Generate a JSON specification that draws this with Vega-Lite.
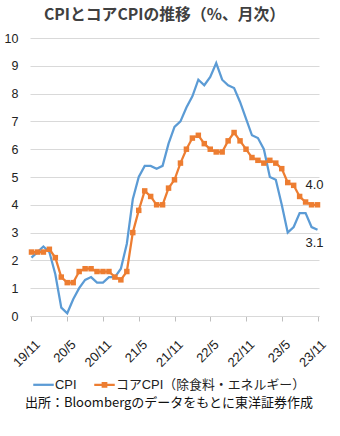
{
  "$schema": "https://vega.github.io/schema/vega-lite/v6.json",
  "width": 289,
  "height": 278,
  "autosize": {"type": "none"},
  "padding": {"left": 30, "top": 38, "right": 21, "bottom": 120},
  "background": "white",
  "title": {"text": "CPIとコアCPIの推移（%、月次）", "font": "Noto Sans CJK JP", "fontSize": 15.8, "fontWeight": "bold", "color": "#404040", "anchor": "middle", "offset": 8, "dx": -10},
  "config": {"view": {"stroke": null}, "font": "Liberation Sans, Noto Sans CJK JP"},
  "data": {"values": [
    {"m": "19/11", "cpi": 2.1, "core": 2.3},
    {"m": "19/12", "cpi": 2.3, "core": 2.3},
    {"m": "20/1", "cpi": 2.5, "core": 2.3},
    {"m": "20/2", "cpi": 2.3, "core": 2.4},
    {"m": "20/3", "cpi": 1.5, "core": 2.1},
    {"m": "20/4", "cpi": 0.3, "core": 1.4},
    {"m": "20/5", "cpi": 0.1, "core": 1.2},
    {"m": "20/6", "cpi": 0.6, "core": 1.2},
    {"m": "20/7", "cpi": 1.0, "core": 1.6},
    {"m": "20/8", "cpi": 1.3, "core": 1.7},
    {"m": "20/9", "cpi": 1.4, "core": 1.7},
    {"m": "20/10", "cpi": 1.2, "core": 1.6},
    {"m": "20/11", "cpi": 1.2, "core": 1.6},
    {"m": "20/12", "cpi": 1.4, "core": 1.6},
    {"m": "21/1", "cpi": 1.4, "core": 1.4},
    {"m": "21/2", "cpi": 1.7, "core": 1.3},
    {"m": "21/3", "cpi": 2.6, "core": 1.6},
    {"m": "21/4", "cpi": 4.2, "core": 3.0},
    {"m": "21/5", "cpi": 5.0, "core": 3.8},
    {"m": "21/6", "cpi": 5.4, "core": 4.5},
    {"m": "21/7", "cpi": 5.4, "core": 4.3},
    {"m": "21/8", "cpi": 5.3, "core": 4.0},
    {"m": "21/9", "cpi": 5.4, "core": 4.0},
    {"m": "21/10", "cpi": 6.2, "core": 4.6},
    {"m": "21/11", "cpi": 6.8, "core": 4.9},
    {"m": "21/12", "cpi": 7.0, "core": 5.5},
    {"m": "22/1", "cpi": 7.5, "core": 6.0},
    {"m": "22/2", "cpi": 7.9, "core": 6.4},
    {"m": "22/3", "cpi": 8.5, "core": 6.5},
    {"m": "22/4", "cpi": 8.3, "core": 6.2},
    {"m": "22/5", "cpi": 8.6, "core": 6.0},
    {"m": "22/6", "cpi": 9.1, "core": 5.9},
    {"m": "22/7", "cpi": 8.5, "core": 5.9},
    {"m": "22/8", "cpi": 8.3, "core": 6.3},
    {"m": "22/9", "cpi": 8.2, "core": 6.6},
    {"m": "22/10", "cpi": 7.7, "core": 6.3},
    {"m": "22/11", "cpi": 7.1, "core": 6.0},
    {"m": "22/12", "cpi": 6.5, "core": 5.7},
    {"m": "23/1", "cpi": 6.4, "core": 5.6},
    {"m": "23/2", "cpi": 6.0, "core": 5.5},
    {"m": "23/3", "cpi": 5.0, "core": 5.6},
    {"m": "23/4", "cpi": 4.9, "core": 5.5},
    {"m": "23/5", "cpi": 4.0, "core": 5.3},
    {"m": "23/6", "cpi": 3.0, "core": 4.8},
    {"m": "23/7", "cpi": 3.2, "core": 4.7},
    {"m": "23/8", "cpi": 3.7, "core": 4.3},
    {"m": "23/9", "cpi": 3.7, "core": 4.1},
    {"m": "23/10", "cpi": 3.2, "core": 4.0},
    {"m": "23/11", "cpi": 3.1, "core": 4.0}
  ]},
  "transform": [{"fold": ["cpi", "core"], "as": ["s", "v"]}],
  "encoding": {
    "x": {
      "field": "m", "type": "ordinal", "sort": null,
      "scale": {"type": "point", "padding": 0.25},
      "axis": {
        "values": ["19/11", "20/5", "20/11", "21/5", "21/11", "22/5", "22/11", "23/5", "23/11"],
        "title": null, "labelAngle": -45, "labelAlign": "right", "labelBaseline": "middle",
        "labelFont": "Liberation Sans", "labelFontSize": 13, "labelColor": "#222",
        "labelPadding": 21, "labelOffset": 6, "tickSize": 5, "tickColor": "#bfbfbf",
        "domainColor": "#d9d9d9", "grid": false
      }
    },
    "y": {
      "field": "v", "type": "quantitative",
      "scale": {"domain": [0, 10], "nice": false},
      "axis": {
        "values": [0, 1, 2, 3, 4, 5, 6, 7, 8, 9, 10], "title": null, "domain": false, "ticks": false,
        "gridColor": "#d9d9d9", "gridWidth": 1, "labelPadding": 12,
        "labelFont": "Liberation Sans", "labelFontSize": 12.5, "labelColor": "#222"
      }
    }
  },
  "layer": [
    {
      "mark": {"type": "line", "strokeWidth": 2.25},
      "encoding": {
        "color": {
          "field": "s", "type": "nominal",
          "scale": {"domain": ["cpi", "core"], "range": ["#5B9BD5", "#ED7D31"]},
          "legend": {
            "orient": "none", "legendX": -5, "legendY": 335, "direction": "horizontal",
            "title": "出所：Bloombergのデータをもとに東洋証券作成",
            "titleOrient": "bottom", "titleAnchor": "middle", "titleFont": "Noto Sans CJK JP",
            "titleFontSize": 13, "titleFontWeight": "normal", "titleColor": "#111",
            "titleLimit": 400, "titlePadding": 5,
            "labelExpr": "datum.value == 'cpi' ? 'CPI' : 'コアCPI（除食料・エネルギー）'",
            "labelFont": "Liberation Sans, Noto Sans CJK JP", "labelFontSize": 12.9, "labelColor": "#222",
            "labelLimit": 300, "labelOffset": 0,
            "symbolSize": 420, "symbolStrokeWidth": 2.25, "columnPadding": 12,
            "encode": {
              "symbols": {
                "update": {
                  "shape": {"signal": "datum.value == 'cpi' ? 'M-1,0H1' : 'M-1,0H1M-0.17,-0.17H0.17V0.17H-0.17Z'"},
                  "fill": {"signal": "datum.value == 'cpi' ? 'transparent' : '#ED7D31'"},
                  "stroke": {"signal": "datum.value == 'cpi' ? '#5B9BD5' : '#ED7D31'"},
                  "opacity": {"value": 1},
                  "fillOpacity": {"value": 1}
                }
              }
            }
          }
        }
      }
    },
    {
      "transform": [{"filter": "datum.s == 'core'"}],
      "mark": {"type": "square", "size": 30, "color": "#ED7D31", "opacity": 1, "filled": true}
    },
    {
      "transform": [{"filter": "datum.s == 'core' && datum.m == '23/11'"}],
      "mark": {"type": "text", "dx": -3, "dy": -20, "fontSize": 13, "font": "Liberation Sans", "color": "#222"},
      "encoding": {"text": {"field": "v", "type": "quantitative", "format": ".1f"}}
    },
    {
      "transform": [{"filter": "datum.s == 'cpi' && datum.m == '23/11'"}],
      "mark": {"type": "text", "dx": -3, "dy": 13, "fontSize": 13, "font": "Liberation Sans", "color": "#222"},
      "encoding": {"text": {"field": "v", "type": "quantitative", "format": ".1f"}}
    }
  ]
}
